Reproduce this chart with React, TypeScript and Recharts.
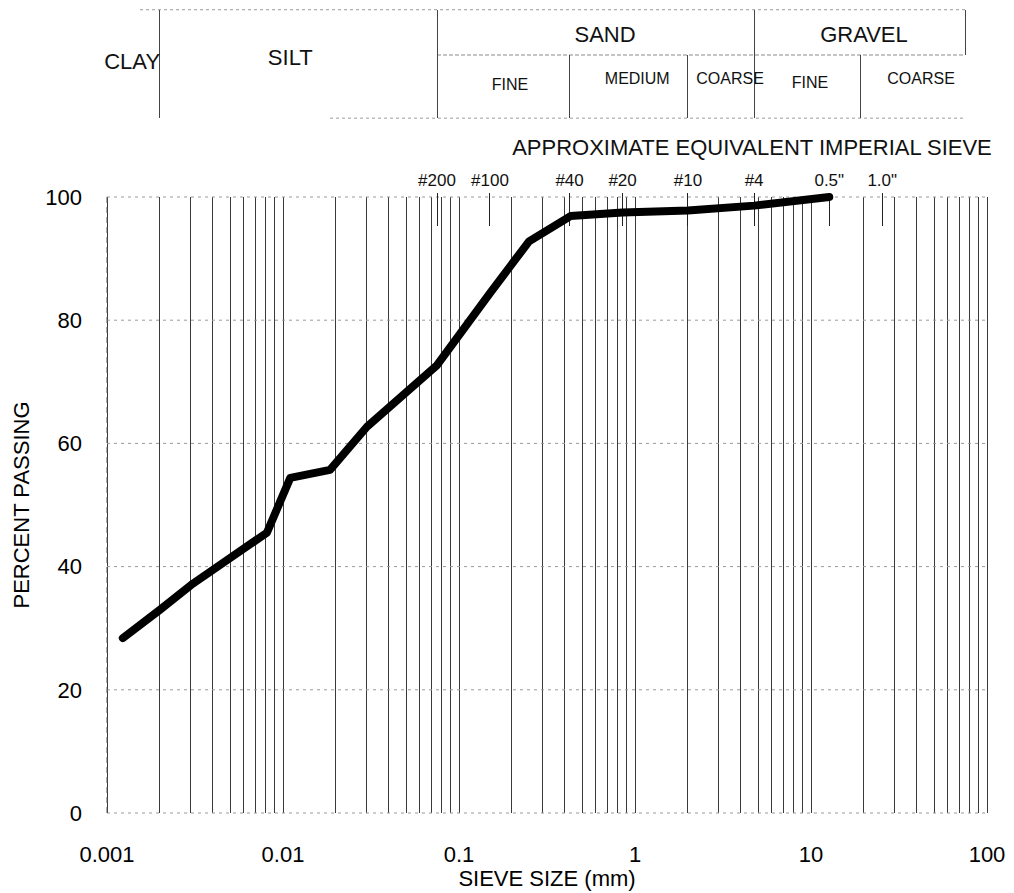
import React from 'react';
import { LineChart, Line, XAxis, YAxis, CartesianGrid, ReferenceLine, ReferenceDot } from 'recharts';

// ---- data ----
const SIZES_MM = [0.00123, 0.002, 0.003, 0.0081, 0.011, 0.0185, 0.03, 0.075, 0.15, 0.25, 0.43, 0.85, 2.0, 4.75, 12.7];
const PERCENT_PASSING = [28.4, 33.0, 37.0, 45.5, 54.4, 55.7, 62.7, 72.7, 84.4, 92.8, 96.9, 97.5, 97.8, 98.6, 100];

const X_DECADES = [0.001, 0.01, 0.1, 1, 10, 100];
const X_DECADE_LABELS = ['0.001', '0.01', '0.1', '1', '10', '100'];
const Y_TICKS = [0, 20, 40, 60, 80, 100];

const SIEVE_LABELS = ['#200', '#100', '#40', '#20', '#10', '#4', '0.5"', '1.0"'];
const SIEVE_SIZES_MM = [0.075, 0.15, 0.425, 0.85, 2.0, 4.75, 12.7, 25.4];

const MAIN_CLASSES = ['CLAY', 'SILT', 'SAND', 'GRAVEL'];
const SUB_CLASSES = ['FINE', 'MEDIUM', 'COARSE', 'FINE', 'COARSE'];

// ---- layout of the classification table (chart units: mm on x, % on y) ----
const TABLE = {
  top: 130.4,
  mid: 123.05,
  bottom: 112.8,
  topStart: 0.00154,
  bottomStart: 0.0185,
  end: 75,
  mainX: [0.00139, 0.011, 0.676, 20],
  mainY: [122.1, 122.7, 126.5, 126.5],
  subX: [0.195, 1.03, 3.47, 9.86, 42.2],
  subY: [118.3, 119.2, 119.2, 118.6, 119.3],
  captionX: 4.62,
  captionY: 108.1,
  sieveLabelY: 102.7,
  sieveTickTop: 100.6,
  sieveTickBottom: 95.3,
};
// vertical dividers: [size, yFrom, yTo]
const DIVIDERS: [number, number, number][] = [
  [0.002, TABLE.bottom, TABLE.top],
  [0.075, TABLE.bottom, TABLE.top],
  [0.425, TABLE.bottom, TABLE.mid],
  [2.0, TABLE.bottom, TABLE.mid],
  [4.75, TABLE.bottom, TABLE.top],
  [19, TABLE.bottom, TABLE.mid],
  [75, TABLE.mid, TABLE.top],
];

const data = SIZES_MM.map((s, i) => ({ size: s, pct: PERCENT_PASSING[i] }));

const gridTicks: number[] = [];
for (let k = -3; k <= 1; k++) {
  for (let n = 1; n <= 9; n++) gridTicks.push(Number((n * Math.pow(10, k)).toPrecision(1)));
}
gridTicks.push(100);

const fmtX = (v: number) => {
  const i = X_DECADES.findIndex((d) => Math.abs(d - v) / d < 1e-6);
  return i >= 0 ? X_DECADE_LABELS[i] : '';
};

const FONT = '"Liberation Sans", Arial, Helvetica, sans-serif';

export default function App() {
  return (
    <div style={{ width: 1006, height: 885, fontFamily: FONT }}>
      <LineChart width={1006} height={885} data={data} margin={{ top: 189, right: 27, bottom: 0, left: 0 }}>
        <CartesianGrid horizontal={false} vertical stroke="#3a3a3a" strokeWidth={1} shapeRendering="crispEdges" />
        <CartesianGrid horizontal vertical={false} stroke="#9a9a9a" strokeDasharray="3 4" />
        <ReferenceLine x={0.001} stroke="#555" strokeDasharray="6 4" />
        <XAxis
          dataKey="size"
          type="number"
          scale="log"
          domain={[0.001, 100]}
          allowDataOverflow
          ticks={gridTicks}
          interval={0}
          tickFormatter={fmtX}
          axisLine={false}
          tickLine={false}
          tickSize={0}
          tickMargin={33}
          height={80}
          tick={{ fill: '#000', fontSize: 22, fontFamily: FONT }}
          label={{ value: 'SIEVE SIZE (mm)', position: 'insideBottom', offset: 7, fill: '#000', fontSize: 22, fontFamily: FONT }}
        />
        <YAxis
          type="number"
          domain={[0, 100]}
          ticks={Y_TICKS}
          interval={0}
          axisLine={false}
          tickLine={false}
          tickSize={0}
          tickMargin={25}
          width={99}
          tick={{ fill: '#000', fontSize: 22, fontFamily: FONT }}
          label={{ value: 'PERCENT PASSING', angle: -90, position: 'insideLeft', offset: 13, fill: '#000', fontSize: 22, fontFamily: FONT, style: { textAnchor: 'middle' } }}
        />

        {/* classification table */}
        <ReferenceLine segment={[{ x: TABLE.topStart, y: TABLE.top }, { x: TABLE.end, y: TABLE.top }]} ifOverflow="visible" stroke="#9a9a9a" strokeDasharray="3 3" />
        <ReferenceLine segment={[{ x: 0.075, y: TABLE.mid }, { x: TABLE.end, y: TABLE.mid }]} ifOverflow="visible" stroke="#8a8a8a" strokeDasharray="4 2" />
        <ReferenceLine segment={[{ x: TABLE.bottomStart, y: TABLE.bottom }, { x: TABLE.end, y: TABLE.bottom }]} ifOverflow="visible" stroke="#9a9a9a" strokeDasharray="3 3" />
        {DIVIDERS.map(([s, y0, y1], i) => (
          <ReferenceLine key={'dv' + i} segment={[{ x: s, y: y0 }, { x: s, y: y1 }]} ifOverflow="visible" stroke="#444" strokeWidth={1} shapeRendering="crispEdges" />
        ))}
        {MAIN_CLASSES.map((t, i) => (
          <ReferenceDot key={'mc' + i} x={TABLE.mainX[i]} y={TABLE.mainY[i]} r={0} ifOverflow="visible"
            label={{ value: t, position: 'center', fill: '#111', fontSize: 22, fontFamily: FONT }} />
        ))}
        {SUB_CLASSES.map((t, i) => (
          <ReferenceDot key={'sc' + i} x={TABLE.subX[i]} y={TABLE.subY[i]} r={0} ifOverflow="visible"
            label={{ value: t, position: 'center', fill: '#111', fontSize: 16, fontFamily: FONT }} />
        ))}
        <ReferenceDot x={TABLE.captionX} y={TABLE.captionY} r={0} ifOverflow="visible"
          label={{ value: 'APPROXIMATE EQUIVALENT IMPERIAL SIEVE', position: 'center', fill: '#111', fontSize: 22, fontFamily: FONT }} />

        {/* sieve marks */}
        {SIEVE_SIZES_MM.map((s, i) => (
          <ReferenceLine key={'st' + i} segment={[{ x: s, y: TABLE.sieveTickBottom }, { x: s, y: TABLE.sieveTickTop }]} ifOverflow="visible" stroke="#222" strokeWidth={1} shapeRendering="crispEdges" />
        ))}
        {SIEVE_LABELS.map((t, i) => (
          <ReferenceDot key={'sl' + i} x={SIEVE_SIZES_MM[i]} y={TABLE.sieveLabelY} r={0} ifOverflow="visible"
            label={{ value: t, position: 'center', fill: '#111', fontSize: 17, fontFamily: FONT }} />
        ))}

        <Line
          type="linear"
          dataKey="pct"
          stroke="#000"
          strokeWidth={8}
          strokeLinejoin="round"
          strokeLinecap="round"
          dot={false}
          activeDot={false}
          isAnimationActive={false}
        />
      </LineChart>
    </div>
  );
}
